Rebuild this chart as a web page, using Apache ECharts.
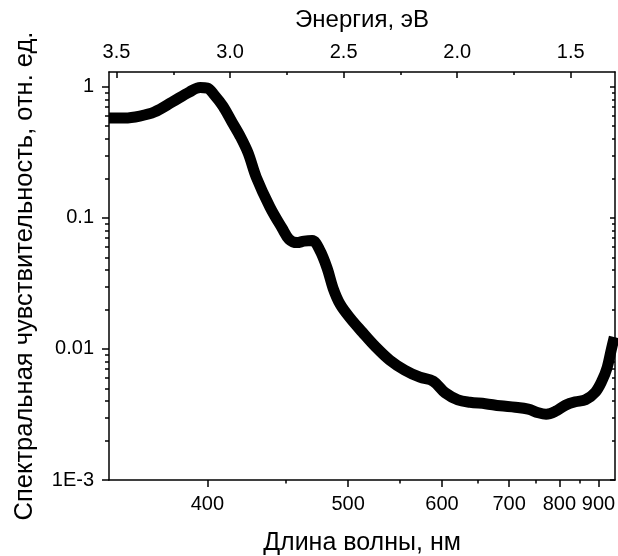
<!DOCTYPE html>
<html>
<head>
<meta charset="utf-8">
<script src="https://cdn.jsdelivr.net/npm/echarts@6/dist/echarts.min.js"></script>
<style>
html, body { margin: 0; padding: 0; background: #fff; }
#chart { width: 618px; height: 556px; }
</style>
</head>
<body>
<div id="chart"></div>
<script>
// Spectral response curve: wavelength (nm) and relative sensitivity
const wavelengthNm = [351, 358, 365, 372, 381, 390, 396, 400, 404, 409, 414.5, 419.5, 424.6, 429.8, 439, 447.5,
  452.5, 458.4, 463.7, 470, 476, 482, 487, 493, 502, 513, 525, 540, 556, 573, 589, 604, 621, 638, 661, 685,
  711, 735, 755, 771, 791, 814, 838, 864, 891, 911, 926, 938, 948];
const sensitivity = [0.577, 0.577, 0.597, 0.641, 0.764, 0.911, 0.986, 0.977, 0.865, 0.712, 0.538, 0.42, 0.312,
  0.205, 0.121, 0.0834, 0.0687, 0.0647, 0.0664, 0.067, 0.0567, 0.0413, 0.029, 0.0219, 0.0171, 0.0134, 0.0105,
  0.0082, 0.00688, 0.00608, 0.00567, 0.00463, 0.00409, 0.00392, 0.00382, 0.00368, 0.00359, 0.00347, 0.00326,
  0.00318, 0.00334, 0.00372, 0.00395, 0.00409, 0.00467, 0.00577, 0.00725, 0.00977, 0.0123];

// Axis ticks
const wavelengthTicks = [400, 500, 600, 700, 800, 900];
const wavelengthMinorTicks = [450, 550, 650, 750, 850];
const energyTicks = [3.5, 3.0, 2.5, 2.0, 1.5];
const energyMinorTicks = [3.25, 2.75, 2.25, 1.75];
const sensitivityTicks = [0.001, 0.01, 0.1, 1];
const sensitivityTickLabels = ['1E-3', '0.01', '0.1', '1'];

// Photon energy (eV) from wavelength (nm)
const HC = 1240;
const toEnergy = (nm) => HC / nm;

const energyMin = 1.305, energyMax = 3.533;
const logMin = -3, logMax = Math.log10(1.295);

const sensitivityMinorTicks = [];
for (let p = -3; p <= 0; p++) {
  for (let k = 2; k <= 9; k++) {
    const v = Math.log10(k) + p;
    if (v < logMax) sensitivityMinorTicks.push(v);
  }
}

const FONT = '"Liberation Sans", Arial, sans-serif';
const black = '#000';
const lineW = 1.5;

function xAxisBase(extra) {
  return Object.assign({
    type: 'value', min: energyMin, max: energyMax, inverse: true,
    splitLine: { show: false },
    axisLine: { show: false, onZero: false },
    axisLabel: { show: false },
    axisTick: { show: false }
  }, extra);
}
function yAxisBase(extra) {
  return Object.assign({
    type: 'value', min: logMin, max: logMax,
    splitLine: { show: false },
    axisLine: { show: false, onZero: false },
    axisLabel: { show: false },
    axisTick: { show: false }
  }, extra);
}

const chart = echarts.init(document.getElementById('chart'), null, { renderer: 'canvas' });

chart.setOption({
  backgroundColor: '#fff',
  animation: false,
  grid: { left: 109, right: 3, top: 72, bottom: 76, containLabel: false, outerBoundsMode: 'none' },
  xAxis: [
    xAxisBase({
      position: 'bottom',
      name: 'Длина волны, нм', nameLocation: 'middle', nameGap: 51,
      nameTextStyle: { fontFamily: FONT, fontSize: 25, color: black },
      axisLine: { show: true, onZero: false, lineStyle: { color: black, width: lineW } },
      axisTick: { show: true, inside: false, length: 7, lineStyle: { color: black, width: lineW },
        customValues: wavelengthTicks.map(toEnergy) },
      axisLabel: { show: true, margin: 14, fontFamily: FONT, fontSize: 20, color: black,
        customValues: wavelengthTicks.map(toEnergy),
        formatter: (v) => String(Math.round(HC / v)) }
    }),
    xAxisBase({
      position: 'bottom',
      axisTick: { show: true, inside: false, length: 3.5, lineStyle: { color: black, width: lineW },
        customValues: wavelengthMinorTicks.map(toEnergy) }
    }),
    xAxisBase({
      position: 'top',
      name: 'Энергия, эВ', nameLocation: 'middle', nameGap: 40,
      nameTextStyle: { fontFamily: FONT, fontSize: 24, color: black },
      axisLine: { show: true, onZero: false, lineStyle: { color: black, width: lineW } },
      axisTick: { show: true, inside: true, length: 6, lineStyle: { color: black, width: lineW },
        customValues: energyTicks },
      axisLabel: { show: true, margin: 10, fontFamily: FONT, fontSize: 20, color: black,
        customValues: energyTicks,
        formatter: (v) => v.toFixed(1) }
    }),
    xAxisBase({
      position: 'top',
      axisTick: { show: true, inside: true, length: 3, lineStyle: { color: black, width: lineW },
        customValues: energyMinorTicks }
    })
  ],
  yAxis: [
    yAxisBase({
      position: 'left',
      name: 'Спектральная чувствительность, отн. ед.', nameLocation: 'middle', nameGap: 71, nameRotate: 90,
      nameTextStyle: { fontFamily: FONT, fontSize: 25.5, color: black },
      axisLine: { show: true, onZero: false, lineStyle: { color: black, width: lineW } },
      axisTick: { show: true, inside: false, length: 7, lineStyle: { color: black, width: lineW },
        customValues: sensitivityTicks.map(Math.log10) },
      axisLabel: { show: true, margin: 15, fontFamily: FONT, fontSize: 20, color: black,
        customValues: sensitivityTicks.map(Math.log10),
        formatter: (v) => {
          const i = sensitivityTicks.findIndex(t => Math.abs(Math.log10(t) - v) < 1e-6);
          return i >= 0 ? sensitivityTickLabels[i] : '';
        } }
    }),
    yAxisBase({
      position: 'left',
      axisTick: { show: true, inside: false, length: 4, lineStyle: { color: black, width: lineW },
        customValues: sensitivityMinorTicks }
    }),
    yAxisBase({
      position: 'right',
      axisLine: { show: true, onZero: false, lineStyle: { color: black, width: lineW } },
      axisTick: { show: true, inside: true, length: 5, lineStyle: { color: black, width: lineW },
        customValues: sensitivityTicks.map(Math.log10) }
    }),
    yAxisBase({
      position: 'right',
      axisTick: { show: true, inside: true, length: 3, lineStyle: { color: black, width: lineW },
        customValues: sensitivityMinorTicks }
    })
  ],
  series: [{
    type: 'line',
    xAxisIndex: 0,
    yAxisIndex: 0,
    smooth: 0.35,
    showSymbol: false,
    clip: true,
    lineStyle: { color: black, width: 11, cap: 'butt', join: 'round' },
    data: wavelengthNm.map((w, i) => [toEnergy(w), Math.log10(sensitivity[i])])
  }]
});
</script>
</body>
</html>
